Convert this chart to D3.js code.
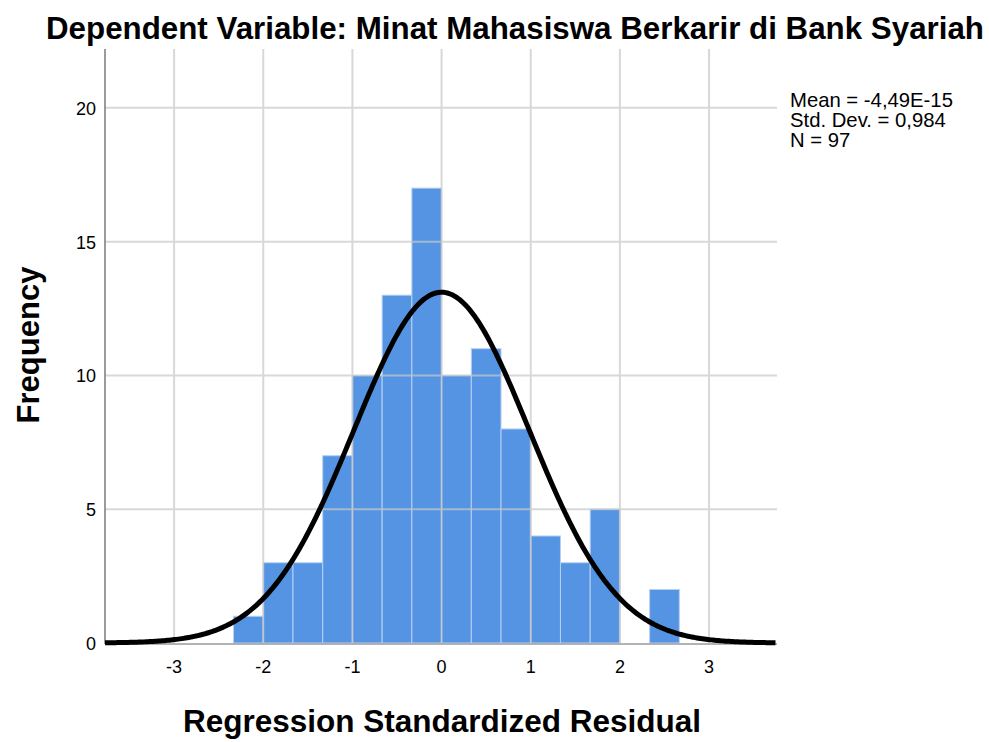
<!DOCTYPE html>
<html>
<head>
<meta charset="utf-8">
<script src="https://cdn.jsdelivr.net/npm/d3@7"></script>
<style>
    body { margin: 0; background: #fff; }
    svg text { font-family: "Liberation Sans", Arial, sans-serif; fill: #000; }
</style>
</head>
<body>
<div id="chart"></div>
<script>
// histogram bins (width 1/3), lower edges
var binStarts = [-7/3, -2, -5/3, -4/3, -1, -2/3, -1/3, 0, 1/3, 2/3, 1, 4/3, 5/3, 2, 7/3];
var binCounts = [1, 3, 3, 7, 10, 13, 17, 10, 11, 8, 4, 3, 5, 0, 2];
var binWidth = 1/3;

var xTicks = [-3, -2, -1, 0, 1, 2, 3];
var yTicks = [0, 5, 10, 15, 20];

var statLines = ["Mean = -4,49E-15", "Std. Dev. = 0,984", "N = 97"];
var mean = 0, stdDev = 0.984, total = 97;

var width = 989, height = 742;
var plot = { left: 105, right: 777, top: 49, bottom: 643 };

var svg = d3.select("#chart").append("svg")
    .attr("width", width)
    .attr("height", height);

var x = d3.scaleLinear().domain([-3.775, 3.762]).range([plot.left, plot.right]);
var y = d3.scaleLinear().domain([0, 22.2]).range([plot.bottom, plot.top]);

// bars
svg.append("g").selectAll("rect")
    .data(binStarts.map((s, i) => ({ x0: s, x1: s + binWidth, n: binCounts[i] })).filter(d => d.n > 0))
    .join("rect")
    .attr("x", d => x(d.x0))
    .attr("y", d => y(d.n))
    .attr("width", d => x(d.x1) - x(d.x0))
    .attr("height", d => y(0) - y(d.n))
    .attr("fill", "#5594e3")
    .attr("stroke", "#b7d0f2")
    .attr("stroke-width", 1);

// grid lines (drawn over the bars, faint)
var grid = svg.append("g").attr("stroke", "#c8c8c8").attr("stroke-width", 2).attr("opacity", 0.7);
grid.selectAll("line.v")
    .data(xTicks)
    .join("line")
    .attr("class", "v")
    .attr("x1", d => x(d)).attr("x2", d => x(d))
    .attr("y1", plot.top).attr("y2", plot.bottom);
grid.selectAll("line.h")
    .data(yTicks.filter(d => d > 0))
    .join("line")
    .attr("class", "h")
    .attr("x1", plot.left).attr("x2", plot.right)
    .attr("y1", d => y(d)).attr("y2", d => y(d));

// axes lines
svg.append("line")
    .attr("x1", plot.left).attr("x2", plot.left)
    .attr("y1", plot.top).attr("y2", plot.bottom + 1)
    .attr("stroke", "#7a7a7a").attr("stroke-width", 1.5);
svg.append("line")
    .attr("x1", plot.left).attr("x2", plot.right)
    .attr("y1", plot.bottom + 1).attr("y2", plot.bottom + 1)
    .attr("stroke", "#9a9a9a").attr("stroke-width", 1.5);

// normal curve
var curvePts = d3.range(-3.775, 3.7621, 0.02).map(v => [v,
    total * binWidth * Math.exp(-0.5 * Math.pow((v - mean) / stdDev, 2)) / (stdDev * Math.sqrt(2 * Math.PI))]);
svg.append("path")
    .datum(curvePts)
    .attr("fill", "none")
    .attr("stroke", "#000")
    .attr("stroke-width", 5)
    .attr("d", d3.line().x(d => x(d[0])).y(d => y(d[1])));

// tick labels
svg.append("g").selectAll("text")
    .data(xTicks)
    .join("text")
    .attr("x", d => x(d))
    .attr("y", 673)
    .attr("text-anchor", "middle")
    .attr("font-size", 18)
    .text(d => d);
svg.append("g").selectAll("text")
    .data(yTicks)
    .join("text")
    .attr("x", 96)
    .attr("y", d => y(d) + 7)
    .attr("text-anchor", "end")
    .attr("font-size", 18)
    .text(d => d);

// titles
svg.append("text")
    .attr("x", 515).attr("y", 39)
    .attr("text-anchor", "middle")
    .attr("font-size", 31).attr("font-weight", "bold")
    .attr("textLength", 938).attr("lengthAdjust", "spacingAndGlyphs")
    .text("Dependent Variable: Minat Mahasiswa Berkarir di Bank Syariah");

svg.append("text")
    .attr("x", 442).attr("y", 732)
    .attr("text-anchor", "middle")
    .attr("font-size", 31.5).attr("font-weight", "bold")
    .text("Regression Standardized Residual");

svg.append("text")
    .attr("transform", "translate(39,345) rotate(-90)")
    .attr("text-anchor", "middle")
    .attr("font-size", 31).attr("font-weight", "bold")
    .text("Frequency");

// stats box
svg.append("g").selectAll("text")
    .data(statLines)
    .join("text")
    .attr("x", 790)
    .attr("y", (d, i) => 107 + i * 20)
    .attr("font-size", 20.3)
    .text(d => d);
</script>
</body>
</html>
